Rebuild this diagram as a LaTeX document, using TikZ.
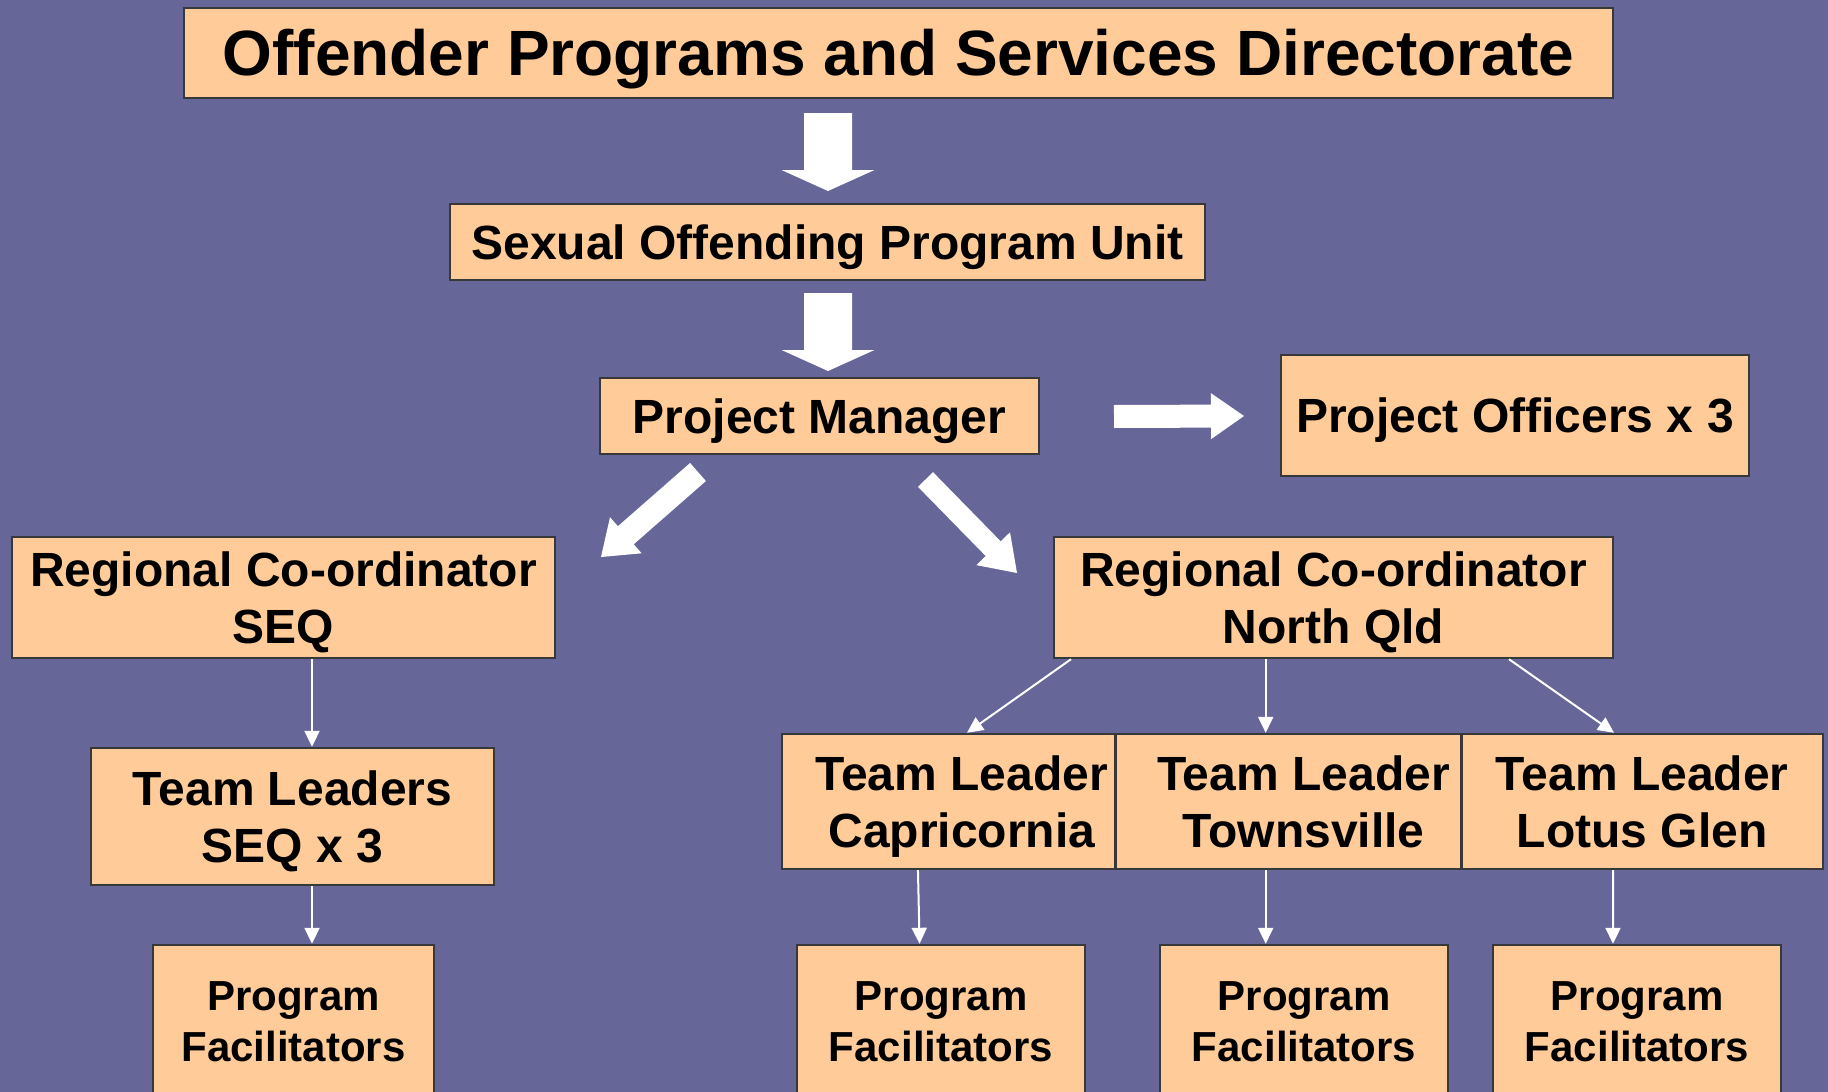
\documentclass[tikz,border=0pt]{standalone}
\usepackage{fontspec}
\setmainfont{Liberation Sans}
\usetikzlibrary{calc,arrows.meta}
\definecolor{bgcol}{HTML}{666699}
\definecolor{boxcol}{HTML}{FFCC99}
\definecolor{edgecol}{HTML}{383838}
\newcommand{\capl}[1]{\rule{0pt}{0.716em}\smash{#1}}
\newcommand{\blockarr}[5]{%
  \path ($(#2)!#5!(#1)$) coordinate (bah);
  \fill[white] ($(#1)!#3!90:(#2)$) -- ($(bah)!#3!90:(#2)$) -- ($(bah)!#4!90:(#2)$) -- (#2)
    -- ($(bah)!#4!-90:(#2)$) -- ($(bah)!#3!-90:(#2)$) -- ($(#1)!#3!-90:(#2)$) -- cycle;}
\tikzset{
  box/.style={draw=edgecol, fill=boxcol, line width=1.2pt, inner sep=0pt, align=center,
    font=\bfseries\fontsize{24}{28.5}\selectfont},
  bigbox/.style={box, font=\bfseries\fontsize{32}{38}\selectfont},
  facbox/.style={box, font=\bfseries\fontsize{21}{25.5}\selectfont},
  conn/.style={draw=white, line width=1pt, -{Triangle[length=8pt,width=7.5pt]}}
}
\begin{document}
\begin{tikzpicture}[x=0.5pt,y=-0.5pt]
\clip (0,0) rectangle (1828,1092);
\fill[bgcol] (0,0) rectangle (1828,1092);
\useasboundingbox (0,0) rectangle (1828,1092);

% nodes
\node[bigbox, minimum width=714.5pt, minimum height=45pt] (dir) at (898.5,53) {\capl{Offender Programs and Services Directorate}};
\node[box, minimum width=377.5pt, minimum height=38pt] (sopu) at (827.5,242) {\capl{Sexual Offending Program Unit}};
\node[box, minimum width=219.5pt, minimum height=38pt] (pm) at (819.5,416) {\capl{Project Manager}};
\node[box, minimum width=234pt, minimum height=60.5pt] (po) at (1515,415.5) {\capl{Project Officers x 3}};
\node[box, minimum width=271.5pt, minimum height=60.5pt] (rcseq) at (283.5,597.5) {\capl{Regional Co-ordinator}\\\capl{SEQ}};
\node[box, minimum width=279.5pt, minimum height=60.5pt] (rcnq) at (1333.5,597.5) {\capl{Regional Co-ordinator}\\\capl{North Qld}};
\node[box, minimum width=201.5pt, minimum height=68.5pt] (tlseq) at (292.5,816.5) {\capl{Team Leaders}\\\capl{SEQ x 3}};
\node[box, minimum width=166.75pt, minimum height=67.5pt] (tlcap) at (948.75,801.5) {\capl{\hspace*{13pt}Team Leader}\\\capl{\hspace*{13pt}Capricornia}};
\node[box, minimum width=173pt, minimum height=67.5pt] (tltown) at (1288.5,801.5) {\capl{\hspace*{15pt}Team Leader}\\\capl{\hspace*{15pt}Townsville}};
\node[box, minimum width=180.75pt, minimum height=67.5pt] (tllotus) at (1642.25,801.5) {\capl{Team Leader}\\\capl{Lotus Glen}};
\node[facbox, minimum width=140.5pt, minimum height=76pt] (facseq) at (293.5,1021) {\capl{Program}\\\capl{Facilitators}};
\node[facbox, minimum width=144pt, minimum height=76pt] (faccap) at (941,1021) {\capl{Program}\\\capl{Facilitators}};
\node[facbox, minimum width=144pt, minimum height=76pt] (factown) at (1304,1021) {\capl{Program}\\\capl{Facilitators}};
\node[facbox, minimum width=144pt, minimum height=76pt] (faclotus) at (1637,1021) {\capl{Program}\\\capl{Facilitators}};

% block arrows
\coordinate (a1s) at (828,113); \coordinate (a1e) at (828,191);
\coordinate (a2s) at (828,293); \coordinate (a2e) at (828,371);
\coordinate (a3s) at (1114,416.5); \coordinate (a3e) at (1244,416);
\coordinate (a4s) at (698,472); \coordinate (a4e) at (601,557);
\coordinate (a5s) at (925.5,479.5); \coordinate (a5e) at (1017,573);
\blockarr{a1s}{a1e}{12pt}{23.25pt}{10.5pt}
\blockarr{a2s}{a2e}{12pt}{23.25pt}{10.5pt}
\blockarr{a3s}{a3e}{5.75pt}{11.5pt}{16.5pt}
\blockarr{a4s}{a4e}{6pt}{12pt}{16.5pt}
\blockarr{a5s}{a5e}{5.25pt}{11.75pt}{17pt}

% thin connectors
\draw[conn] ([xshift=14.25pt]rcseq.south) -- ([xshift=9.75pt]tlseq.north);
\draw[conn] ([xshift=9.75pt]tlseq.south) -- ([xshift=9.25pt]facseq.north);
\draw[conn] ([xshift=-131.25pt]rcnq.south) -- ([xshift=9.125pt]tlcap.north);
\draw[conn] ([xshift=-33.9pt]rcnq.south) -- ([xshift=-11.4pt]tltown.north);
\draw[conn] ([xshift=87.75pt]rcnq.south) -- ([xshift=-14.1pt]tllotus.north);
\draw[conn] ([xshift=-15.4pt]tlcap.south) -- ([xshift=-10.7pt]faccap.north);
\draw[conn] ([xshift=-11.4pt]tltown.south) -- ([xshift=-19.15pt]factown.north);
\draw[conn] ([xshift=-14.6pt]tllotus.south) -- ([xshift=-12pt]faclotus.north);
\end{tikzpicture}
\end{document}
